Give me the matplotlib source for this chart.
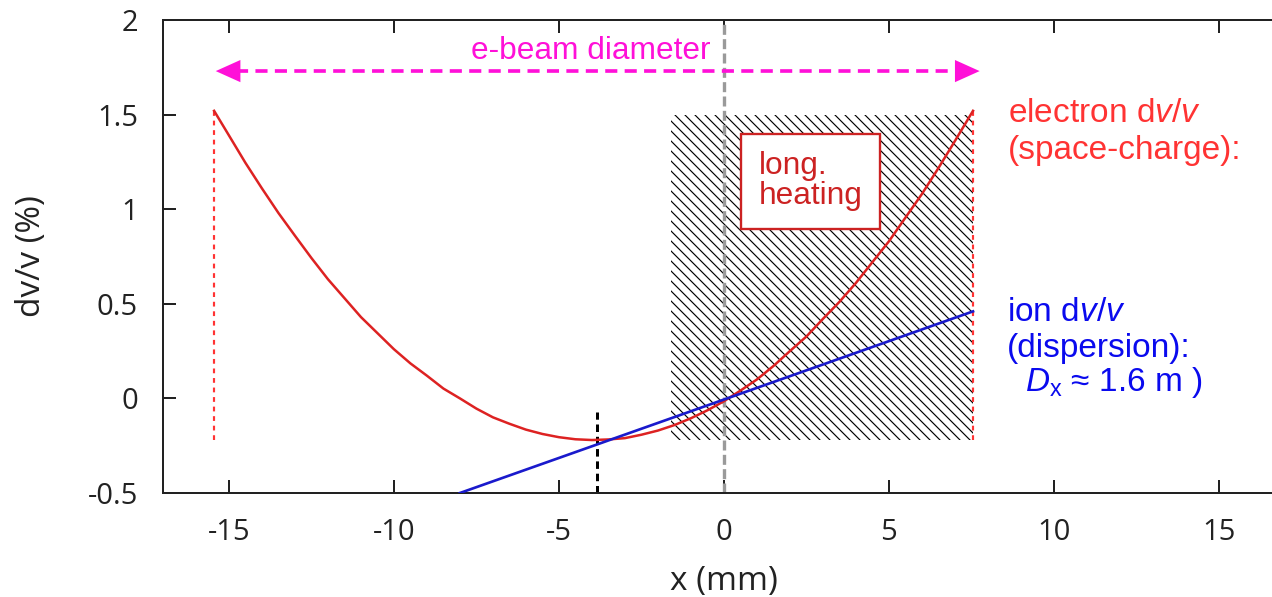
import numpy as np
import matplotlib
matplotlib.use('Agg')
import matplotlib.pyplot as plt

plt.rcParams.update({
    'font.family': 'sans-serif',
    'font.sans-serif': ['Open Sans', 'DejaVu Sans'],
    'mathtext.fontset': 'custom',
    'mathtext.rm': 'Liberation Sans',
    'mathtext.it': 'Liberation Sans:italic',
    'axes.unicode_minus': False,
    'hatch.linewidth': 0.7,
})

# electron dv/v from space charge across the beam (x in mm, dv/v in %)
x_e = [-15.45, -15, -14.5, -14, -13.5, -13, -12.5, -12, -11.5, -11, -10.5,
       -10, -9.5, -9, -8.5, -8, -7.5, -7, -6.5, -6, -5.5, -5, -4.5, -4,
       -3.5, -3, -2.5, -2, -1.5, -1, -0.5, 0, 0.5, 1, 1.5, 2, 2.5, 3, 3.5,
       4, 4.5, 5, 5.5, 6, 6.5, 7, 7.55]
dv_e = [1.52, 1.39, 1.245, 1.11, 0.98, 0.86, 0.742, 0.63, 0.53, 0.43, 0.345,
        0.26, 0.185, 0.12, 0.052, 0.00, -0.054, -0.10, -0.134, -0.165, -0.188,
        -0.205, -0.216, -0.22, -0.217, -0.21, -0.192, -0.17, -0.141, -0.105,
        -0.063, -0.015, 0.041, 0.10, 0.171, 0.25, 0.327, 0.42, 0.51, 0.61,
        0.72, 0.83, 0.955, 1.08, 1.217, 1.36, 1.52]

# ion dv/v from dispersion
x_ion = [-8.0, 7.55]
dv_ion = [-0.5, 0.46]

beam_edges = [-15.45, 7.55]
beam_low, beam_high = -0.22, 1.52
arrow_y = 1.73
arrow_tips = [-15.4, 7.75]

heat_x = [-1.6, 7.55]
heat_low, heat_high = -0.22, 1.5

min_x = -3.85
min_y = [-0.5, -0.07]

xticks = [-15, -10, -5, 0, 5, 10, 15]
yticks = [-0.5, 0, 0.5, 1, 1.5, 2]
ytick_labels = ['-0.5', '0', '0.5', '1', '1.5', '2']

RED = '#dd2222'
RED_LIGHT = '#ff3333'
BLUE = '#1a1acc'
BLUE_TXT = '#0a0aee'
MAG = '#ff10d8'

fig = plt.figure(figsize=(10.6, 4.975), dpi=120)
# right edge of the frame runs past the canvas
ax = fig.add_axes([0.1281, 0.1742, 0.882, 0.7923])

# hatched longitudinal heating zone
ax.fill_between(heat_x, heat_low, heat_high, facecolor='none',
                edgecolor='black', hatch='\\\\\\\\', lw=0, zorder=1)

# beam edges
for xb in beam_edges:
    ax.plot([xb, xb], [beam_low, beam_high], color=RED_LIGHT, lw=1.3,
            dashes=(2.2, 2.2), zorder=2)

ax.axvline(0, color='#9a9a9a', lw=2.0, dashes=(3, 1.3), zorder=2)
ax.plot([min_x, min_x], min_y, color='black', lw=1.8, dashes=(2.5, 1.6), zorder=2)

ax.plot(x_e, dv_e, color=RED, lw=1.5, zorder=3)
ax.plot(x_ion, dv_ion, color=BLUE, lw=1.6, zorder=3)

# e-beam diameter arrow
head_len = 0.76
ax.plot([arrow_tips[0] + head_len * 0.8, arrow_tips[1] - head_len * 0.8],
        [arrow_y, arrow_y], color=MAG, lw=2.2, dashes=(3.3, 2.0), zorder=3)
for tip, sgn in zip(arrow_tips, [1, -1]):
    ax.annotate('', xy=(tip, arrow_y), xytext=(tip + sgn * head_len, arrow_y),
                arrowprops=dict(arrowstyle='-|>,head_length=0.4,head_width=0.18',
                                mutation_scale=37, color=MAG, lw=0,
                                shrinkA=0, shrinkB=0), zorder=3)
ax.text(-4.05, 1.836, 'e-beam diameter', color=MAG, fontsize=19,
        family='Liberation Sans', ha='center', va='center')

ax.text(1.05, 1.025, 'long.\nheating', color='#cc2222', fontsize=19,
        family='Liberation Sans', ha='left', va='baseline', linespacing=1.0,
        bbox=dict(boxstyle='square,pad=0.55', fc='white', ec='#cc2222', lw=1.4),
        zorder=4)

ax.text(8.61, 1.459, r'electron d$\mathit{v}$/$\mathit{v}$', color=RED_LIGHT,
        fontsize=20, family='Liberation Sans', va='baseline')
ax.text(8.61, 1.263, '(space-charge):', color=RED_LIGHT,
        fontsize=20, family='Liberation Sans', va='baseline')

ax.text(8.57, 0.408, r'ion d$\mathit{v}$/$\mathit{v}$', color=BLUE_TXT,
        fontsize=20, family='Liberation Sans', va='baseline')
ax.text(8.57, 0.217, '(dispersion):', color=BLUE_TXT,
        fontsize=20, family='Liberation Sans', va='baseline')
ax.text(9.13, 0.039, r'$D_\mathrm{x}$ ≈ 1.6 m )', color=BLUE_TXT,
        fontsize=20, family='Liberation Sans', va='baseline')

ax.set_xlim(-17, 17)
ax.set_ylim(-0.5, 2)
ax.set_xticks(xticks)
ax.set_xticklabels([str(t) for t in xticks])
ax.set_yticks(yticks)
ax.set_yticklabels(ytick_labels)
ax.tick_params(direction='in', top=True, right=True, length=8, width=1.2,
               labelsize=17.5, labelcolor='#222222', color='#222222')
ax.tick_params(axis='x', pad=15)
ax.tick_params(axis='y', pad=15)
for sp in ax.spines.values():
    sp.set_linewidth(1.2)
    sp.set_color('#222222')

ax.set_xlabel('x (mm)', fontsize=20, color='#222222', labelpad=11)
ax.set_ylabel('dv/v (%)', fontsize=20, color='#222222', labelpad=24)

fig.savefig('out.png', dpi=120)
